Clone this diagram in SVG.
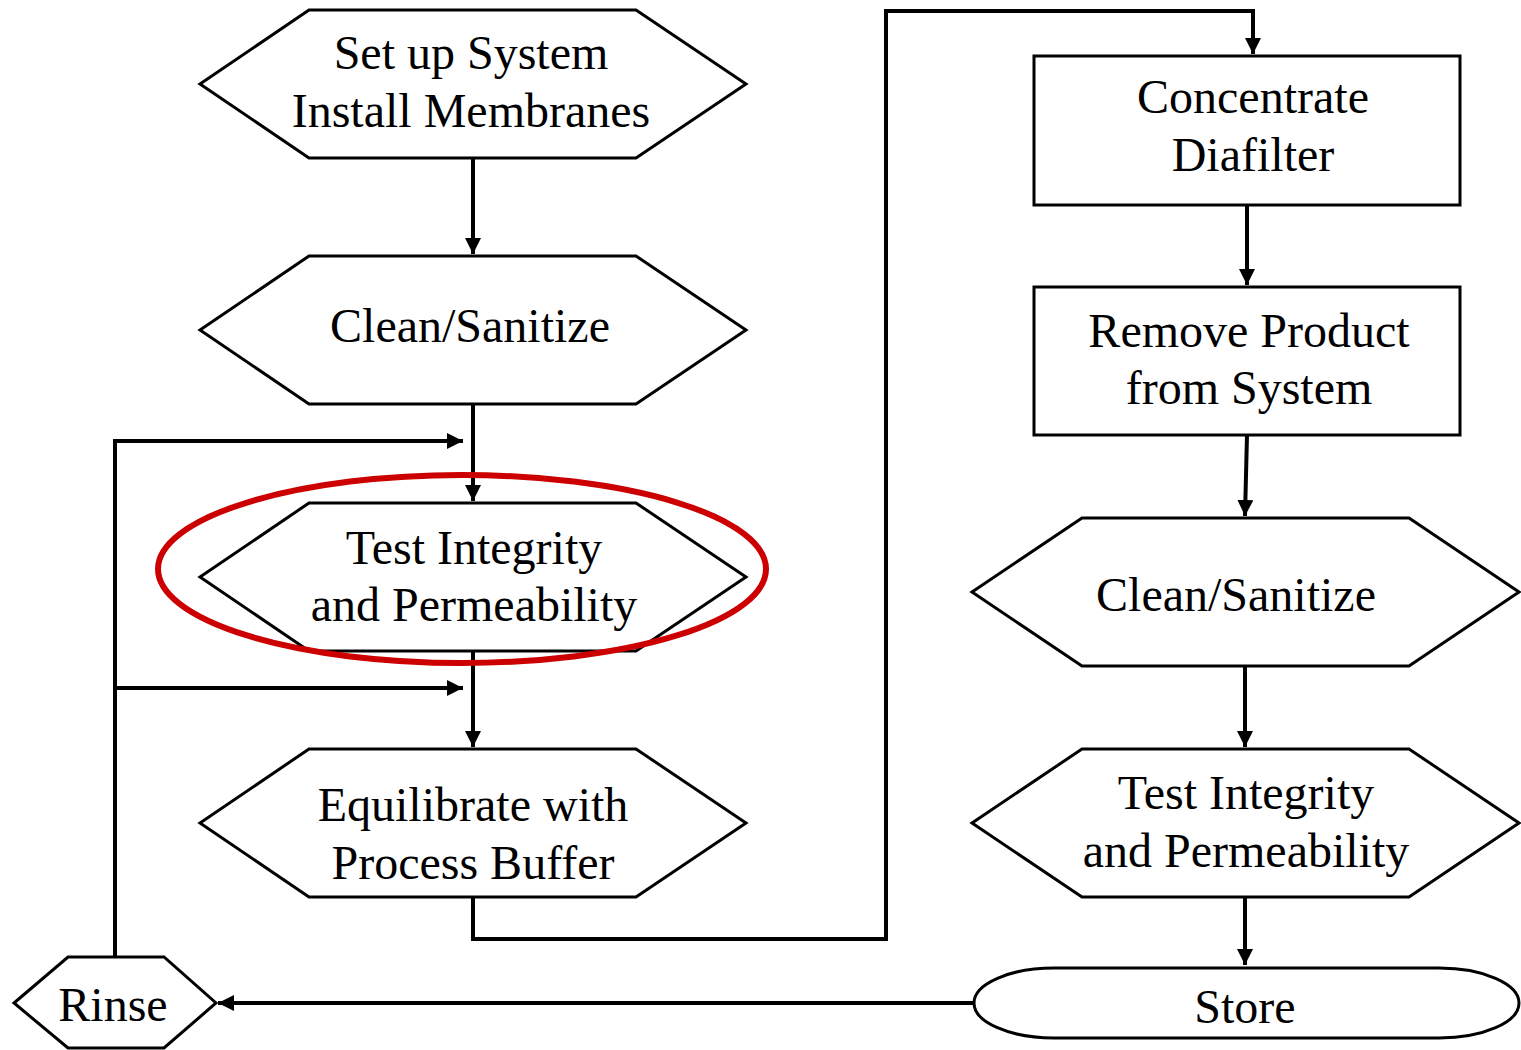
<svg xmlns="http://www.w3.org/2000/svg" width="1521" height="1050" viewBox="0 0 1521 1050">
<style>
.n{fill:#fff;stroke:#000;stroke-width:3}
.t{font-family:"Liberation Serif","Times New Roman",serif;font-size:48px;fill:#000;text-anchor:middle}
.c{fill:none;stroke:#000;stroke-width:4}
</style>
<defs>
<marker id="ah" markerUnits="userSpaceOnUse" markerWidth="18" markerHeight="16" refX="16" refY="8" orient="auto">
<path d="M0,0 L16,8 L0,16 Z" fill="#000"/>
</marker>
</defs>
<rect width="1521" height="1050" fill="#fff"/>
<g id="connectors">
<line class="c" x1="473" y1="158" x2="473" y2="254" marker-end="url(#ah)"/>
<line class="c" x1="473" y1="404" x2="473" y2="501" marker-end="url(#ah)"/>
<line class="c" x1="473" y1="651" x2="473" y2="747" marker-end="url(#ah)"/>
<polyline class="c" points="115,957 115,441 463,441" marker-end="url(#ah)"/>
<line class="c" x1="115" y1="688" x2="463" y2="688" marker-end="url(#ah)"/>
<polyline class="c" points="473,897 473,939 886,939 886,11 1253,11 1253,54" marker-end="url(#ah)"/>
<line class="c" x1="1247" y1="205" x2="1247" y2="285" marker-end="url(#ah)"/>
<line class="c" x1="1247" y1="435" x2="1245" y2="516" marker-end="url(#ah)"/>
<line class="c" x1="1245" y1="666" x2="1245" y2="747" marker-end="url(#ah)"/>
<line class="c" x1="1245" y1="897" x2="1245" y2="965" marker-end="url(#ah)"/>
<line class="c" x1="973" y1="1003" x2="218" y2="1003" marker-end="url(#ah)"/>
</g>
<g id="n1"><polygon class="n" points="200,84 309,10 636,10 746,84 636,158 309,158"/><text class="t" x="471" y="69">Set up System</text><text class="t" x="471" y="127">Install Membranes</text></g>
<g id="n2"><polygon class="n" points="200,330 309,256 636,256 746,330 636,404 309,404"/><text class="t" x="470" y="342">Clean/Sanitize</text></g>
<g id="n3"><polygon class="n" points="200,577 309,503 636,503 746,577 636,651 309,651"/><text class="t" x="474" y="564">Test Integrity</text><text class="t" x="474" y="621">and Permeability</text></g>
<g id="n4"><polygon class="n" points="200,823 309,749 636,749 746,823 636,897 309,897"/><text class="t" x="473" y="821">Equilibrate with</text><text class="t" x="473" y="879">Process Buffer</text></g>
<g id="n5"><rect class="n" x="1034" y="56" width="426" height="149"/><text class="t" x="1253" y="113">Concentrate</text><text class="t" x="1253" y="171">Diafilter</text></g>
<g id="n6"><rect class="n" x="1034" y="287" width="426" height="148"/><text class="t" x="1249" y="347">Remove Product</text><text class="t" x="1249" y="404">from System</text></g>
<g id="n7"><polygon class="n" points="972,592 1082,518 1409,518 1519,592 1409,666 1082,666"/><text class="t" x="1236" y="611">Clean/Sanitize</text></g>
<g id="n8"><polygon class="n" points="972,823 1082,749 1409,749 1519,823 1409,897 1082,897"/><text class="t" x="1246" y="809">Test Integrity</text><text class="t" x="1246" y="867">and Permeability</text></g>
<g id="n9"><rect class="n" x="974" y="968" width="545" height="70" rx="80" ry="35"/><text class="t" x="1245" y="1023">Store</text></g>
<g id="n10"><polygon class="n" points="14,1003 68,957 164,957 216,1003 164,1048 68,1048"/><text class="t" x="113" y="1021">Rinse</text></g>
<ellipse cx="462" cy="569" rx="304" ry="94" fill="none" stroke="#CC0000" stroke-width="6"/>
</svg>
